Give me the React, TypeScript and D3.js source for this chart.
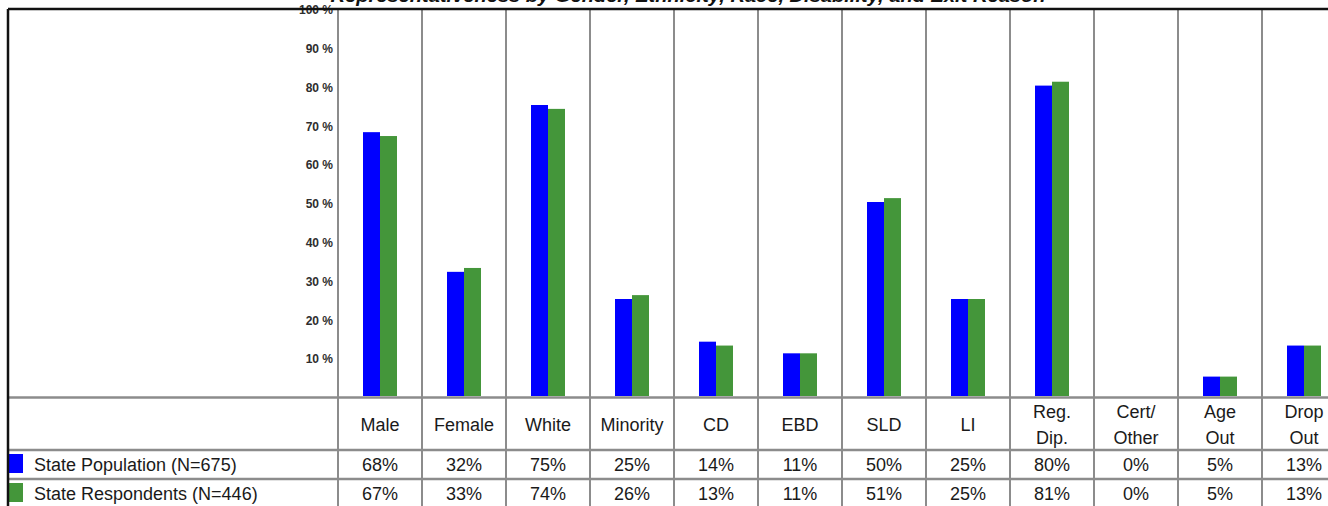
import React from "react";
import * as d3 from "d3";

const categories: string[][] = [
  ["Male"], ["Female"], ["White"], ["Minority"], ["CD"], ["EBD"], ["SLD"], ["LI"],
  ["Reg.", "Dip."], ["Cert/", "Other"], ["Age", "Out"], ["Drop", "Out"],
];
const population = [68, 32, 75, 25, 14, 11, 50, 25, 80, 0, 5, 13];
const respondents = [67, 33, 74, 26, 13, 11, 51, 25, 81, 0, 5, 13];
const seriesNames = ["State Population (N=675)", "State Respondents (N=446)"];
const yTicks = [10, 20, 30, 40, 50, 60, 70, 80, 90, 100];
const title = "Representativeness by Gender, Ethnicity, Race, Disability, and Exit Reason";

const W = 1328;
const H = 506;
const LEFT = 8;
const TOP = 9;
const AXIS_X = 338;
const COL_W = 84;
const BASE_Y = 396;
const HEAD_BOTTOM = 450;
const ROW1_BOTTOM = 479;
const COLORS = ["#0000ff", "#44963a"];
const LINE = "#8c8c8c";
const FONT = "'Liberation Sans', Arial, sans-serif";
const FS = 18;

export default function App() {
  const idx = categories.map((_, i) => String(i));
  const x = d3.scaleBand<string>().domain(idx).range([AXIS_X, AXIS_X + COL_W * categories.length]).padding(0);
  const inner = d3.scaleBand<string>().domain(["p", "r"]).range([0, x.bandwidth()]).paddingInner(0).paddingOuter(25 / 17);
  const y = d3.scaleLinear().domain([0, 100]).range([BASE_Y, 8]);
  const series = [population, respondents];
  const keys = ["p", "r"];

  const vLines = [AXIS_X, ...idx.map((k) => (x(k) as number) + x.bandwidth())];

  return (
    <div style={{ position: "absolute", left: 0, top: 0 }}>
      <svg width={W} height={H} style={{ display: "block", background: "#fff" }}>
        <defs>
          <clipPath id="titleClip">
            <rect x={0} y={0} width={W} height={TOP - 1} />
          </clipPath>
        </defs>
        <g clipPath="url(#titleClip)">
          <text x={688} y={2} textAnchor="middle" fontFamily={FONT} fontSize={18} fontWeight="bold" fontStyle="italic" fill="#111" textLength={715} lengthAdjust="spacingAndGlyphs">
            {title}
          </text>
        </g>

        {/* y axis labels */}
        {yTicks.map((t) => (
          <text key={t} x={333} y={y(t) + 3} textAnchor="end" dominantBaseline="middle" fontFamily={FONT} fontSize={12} fontWeight="bold" fill="#2e2e2e">
            {t} %
          </text>
        ))}

        {/* bars */}
        {series.map((vals, s) =>
          vals.map((v, i) => (
            <rect
              key={`${s}-${i}`}
              x={(x(String(i)) as number) + (inner(keys[s]) as number)}
              y={y(v)}
              width={inner.bandwidth()}
              height={BASE_Y - y(v)}
              fill={COLORS[s]}
            />
          ))
        )}

        {/* vertical grid / table lines */}
        {vLines.map((vx, i) => (
          <line key={i} x1={vx} x2={vx} y1={TOP} y2={H} stroke={LINE} strokeWidth={2} />
        ))}

        {/* horizontal table lines */}
        {[BASE_Y + 1.5, HEAD_BOTTOM, ROW1_BOTTOM].map((hy, i) => (
          <line key={i} x1={LEFT} x2={W} y1={hy} y2={hy} stroke={LINE} strokeWidth={2.5} />
        ))}

        {/* header labels */}
        {categories.map((lines, i) => {
          const cx = (x(String(i)) as number) + x.bandwidth() / 2;
          const cy = (BASE_Y + HEAD_BOTTOM) / 2 + 3;
          return (
            <text key={i} textAnchor="middle" fontFamily={FONT} fontSize={FS} fill="#1a1a1a">
              {lines.map((l, j) => (
                <tspan key={j} x={cx} y={cy + (j - (lines.length - 1) / 2) * 26} dominantBaseline="middle">
                  {l}
                </tspan>
              ))}
            </text>
          );
        })}

        {/* data rows */}
        {series.map((vals, s) => {
          const top = s === 0 ? HEAD_BOTTOM : ROW1_BOTTOM;
          const cy = top + 16;
          return (
            <g key={s}>
              <rect x={LEFT + 1} y={top + 4} width={14} height={19} fill={COLORS[s]} />
              <text x={34} y={cy} dominantBaseline="middle" fontFamily={FONT} fontSize={FS} fill="#1a1a1a">
                {seriesNames[s]}
              </text>
              {vals.map((v, i) => (
                <text key={i} x={(x(String(i)) as number) + x.bandwidth() / 2} y={cy} textAnchor="middle" dominantBaseline="middle" fontFamily={FONT} fontSize={FS} fill="#1a1a1a">
                  {v}%
                </text>
              ))}
            </g>
          );
        })}

        {/* outer border */}
        <line x1={LEFT} x2={W} y1={TOP} y2={TOP} stroke="#111" strokeWidth={2.5} />
        <line x1={LEFT} x2={LEFT} y1={TOP} y2={H} stroke="#111" strokeWidth={2.5} />
      </svg>
    </div>
  );
}
